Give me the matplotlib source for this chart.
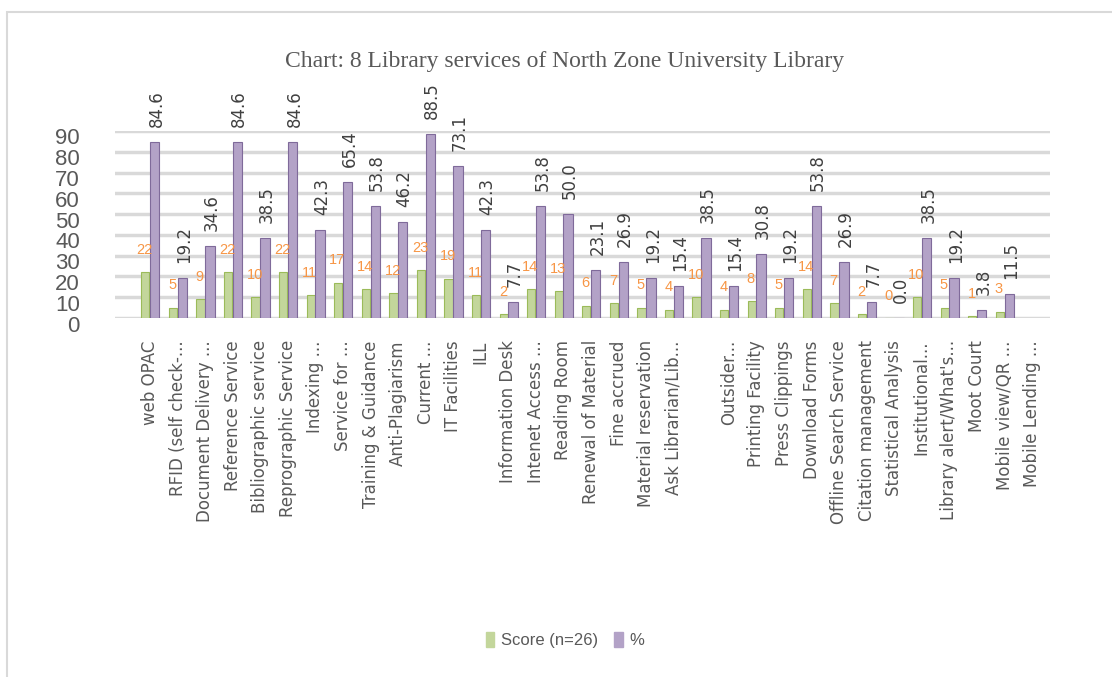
import numpy as np
import matplotlib.pyplot as plt
from matplotlib.patches import Rectangle, Patch
from matplotlib import transforms

services = ['web OPAC', 'RFID (self check-...', 'Document Delivery ...', 'Reference Service',
            'Bibliographic service', 'Reprographic Service', 'Indexing ...', 'Service for ...',
            'Training & Guidance', 'Anti-Plagiarism', 'Current ...', 'IT Facilities', 'ILL',
            'Information Desk', 'Intenet Access ...', 'Reading Room', 'Renewal of Material',
            'Fine accrued', 'Material reservation', 'Ask Librarian/Lib...', '',
            'Outsider...', 'Printing Facility', 'Press Clippings', 'Download Forms',
            'Offline Search Service', 'Citation management', 'Statistical Analysis',
            'Institutional...', "Library alert/What's...", 'Moot Court', 'Mobile view/QR ...',
            'Mobile Lending ...']
score = [22, 5, 9, 22, 10, 22, 11, 17, 14, 12, 23, 19, 11, 2, 14, 13, 6, 7, 5, 4, 10,
         4, 8, 5, 14, 7, 2, 0, 10, 5, 1, 3, np.nan]
pct = [84.6, 19.2, 34.6, 84.6, 38.5, 84.6, 42.3, 65.4, 53.8, 46.2, 88.5, 73.1, 42.3, 7.7,
       53.8, 50.0, 23.1, 26.9, 19.2, 15.4, 38.5, 15.4, 30.8, 19.2, 53.8, 26.9, 7.7, 0.0,
       38.5, 19.2, 3.8, 11.5, np.nan]
yticks = [0, 10, 20, 30, 40, 50, 60, 70, 80, 90]

W, H = 1112, 677
fig = plt.figure(figsize=(W / 100, H / 100), dpi=100)

# light frame around the chart area
fig.add_artist(Rectangle((7 / W, -0.05), 1.0, 1.05 - 12 / H, transform=fig.transFigure,
                         fill=False, edgecolor='#d9d9d9', lw=1.5))

ax = fig.add_axes([115 / W, 1 - 318 / H, (1050 - 115) / W, (318 - 131) / H])
x = np.arange(len(services))
ax.bar(x - 0.17, score, 0.3, color='#c3d69b', edgecolor='#9bbb59', lw=0.8, zorder=3)
ax.bar(x + 0.17, pct, 0.34, color='#b3a2c7', edgecolor='#7f6a9a', lw=0.8, zorder=3)

for xi, s, p in zip(x, score, pct):
    if np.isnan(s):
        continue
    ax.annotate(str(int(s)), (xi - 0.2, s), xytext=(0, 11), textcoords='offset points',
                ha='center', va='bottom', color='#f79646', fontsize=10.5,
                family='Liberation Sans', annotation_clip=False)
    ax.annotate(f'{p:.1f}', (xi + 0.24, p), xytext=(0, 11), textcoords='offset points',
                ha='center', va='bottom', rotation=90, color='#404040', fontsize=12,
                annotation_clip=False)

ax.set_xlim(-1.27, 32.65)
ax.set_ylim(0, 90)
ax.set_yticks(yticks)
ax.set_yticklabels([])
ax.grid(axis='y', color='#d9d9d9', lw=2.5, zorder=0)
for sp in ax.spines.values():
    sp.set_visible(False)
ax.tick_params(length=0)

# y labels sit slightly below their gridlines (3D front plane)
tr = transforms.blended_transform_factory(ax.transAxes, ax.transData) + \
    transforms.ScaledTranslation(-0.35, -0.08, fig.dpi_scale_trans)
for v in yticks:
    ax.text(0, v, str(v), transform=tr, ha='right', va='center', fontsize=16,
            color='#595959', family='Liberation Sans')

ax.set_xticks(x)
ax.set_xticklabels(services, rotation=90, ha='center', va='top', fontsize=12,
                   color='#595959')
ax.tick_params(axis='x', pad=16)

fig.text(565 / W, 1 - 62 / H, 'Chart: 8 Library services of North Zone University Library',
         ha='center', va='center', fontsize=17, family='Liberation Serif', color='#595959')

handles = [Patch(facecolor='#c3d69b', edgecolor='#c3d69b', label='Score (n=26)'),
           Patch(facecolor='#b3a2c7', edgecolor='#b3a2c7', label='%')]
leg = fig.legend(handles=handles, loc='center', bbox_to_anchor=(565 / W, 1 - 640 / H),
                 ncol=2, frameon=False, handlelength=0.5, handleheight=1.0,
                 handletextpad=0.4, columnspacing=1.0,
                 prop={'family': 'Liberation Sans', 'size': 12})
for t in leg.get_texts():
    t.set_color('#595959')

fig.savefig('out.png', dpi=100)
